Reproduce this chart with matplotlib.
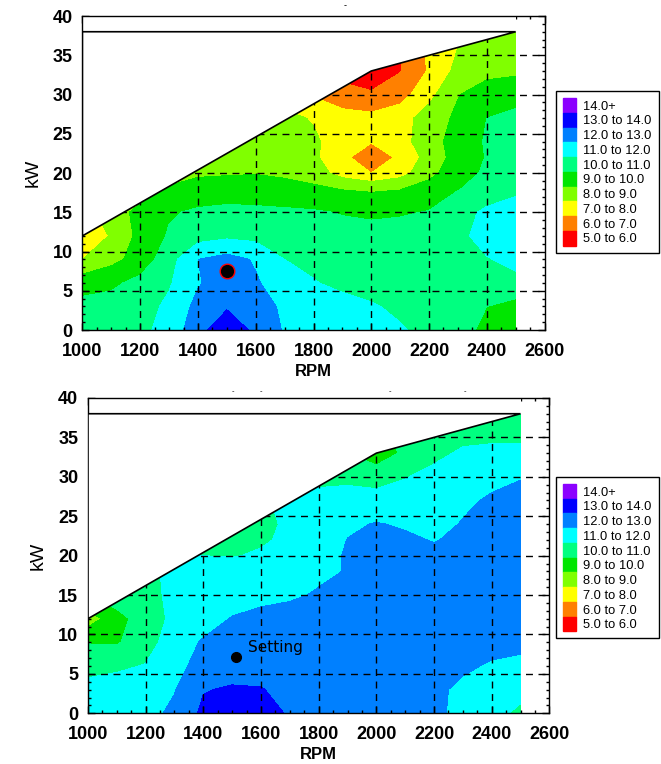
#!/usr/bin/env python3

import numpy as np
import matplotlib.pyplot as plt
from matplotlib.patches import Patch, Polygon, Rectangle
from matplotlib.ticker import MultipleLocator

# grid of the measured map
rpm = [1000, 1100, 1200, 1300, 1400, 1500, 1600, 1700,
       1800, 1900, 2000, 2100, 2200, 2300, 2400, 2500]
kw = [0, 3, 6, 9, 12, 15, 18, 20, 22, 24, 27, 30, 33, 36, 38]

# upper limit of the operating range
limit_rpm = [1000, 2000, 2500]
limit_kw = [12, 33, 38]

levels = [5, 6, 7, 8, 9, 10, 11, 12, 13, 14, 100]
colors = ['#ff0000', '#ff8000', '#ffff00', '#80ff00', '#00e600',
          '#00ff80', '#00ffff', '#0080ff', '#0000ff', '#8b00ff']
labels = ['5.0 to 6.0', '6.0 to 7.0', '7.0 to 8.0', '8.0 to 9.0', '9.0 to 10.0',
          '10.0 to 11.0', '11.0 to 12.0', '12.0 to 13.0', '13.0 to 14.0', '14.0+']

# upper map, one row per kW value
top_values = [
    [10.4, 10.6, 10.8, 11.3, 12.7, 13.6, 12.8, 11.9, 11.6, 11.5, 11.4, 11.1, 10.7, 10.3, 9.8, 9.5],
    [10.3, 10.4, 10.6, 11.2, 12.3, 12.9, 12.5, 11.8, 11.4, 11.3, 11.1, 10.8, 10.5, 10.3, 10.0, 9.6],
    [9.6, 9.8, 10.3, 10.9, 11.9, 12.6, 12.1, 11.5, 11.05, 10.8, 10.6, 10.5, 10.5, 10.6, 10.7, 10.8],
    [8.0, 8.7, 9.4, 10.6, 12.0, 12.35, 11.9, 11.0, 10.8, 10.6, 10.5, 10.5, 10.6, 10.75, 10.95, 11.2],
    [7.1, 8.1, 9.3, 10.1, 10.6, 10.8, 10.7, 10.5, 10.4, 10.3, 10.3, 10.4, 10.5, 10.8, 11.3, 11.5],
    [7.6, 8.5, 9.3, 9.9, 10.15, 10.25, 10.2, 10.15, 10.1, 9.95, 9.85, 9.9, 10.05, 10.6, 11.2, 11.4],
    [7.3, 7.9, 8.5, 9.1, 9.4, 9.5, 9.5, 9.4, 9.2, 8.95, 8.85, 8.95, 9.4, 9.95, 10.4, 10.8],
    [7.2, 7.7, 8.2, 8.6, 8.85, 8.9, 8.95, 8.8, 8.5, 7.6, 7.0, 7.6, 8.7, 9.6, 10.15, 10.55],
    [7.1, 7.5, 7.9, 8.2, 8.4, 8.5, 8.55, 8.4, 8.2, 7.2, 6.5, 7.15, 8.4, 9.4, 10.05, 10.4],
    [7.0, 7.3, 7.6, 7.9, 8.2, 8.4, 8.5, 8.35, 8.2, 7.4, 7.05, 7.6, 8.6, 9.4, 10.1, 10.4],
    [6.8, 7.0, 7.3, 7.6, 7.9, 8.1, 8.3, 8.3, 7.9, 7.4, 7.3, 7.6, 8.45, 9.2, 10.0, 10.2],
    [6.6, 6.7, 6.9, 7.1, 7.3, 7.5, 7.6, 7.4, 6.9, 6.4, 6.1, 6.6, 7.7, 8.95, 9.5, 9.7],
    [6.4, 6.5, 6.6, 6.8, 7.0, 7.1, 7.2, 7.0, 6.5, 5.6, 5.5, 5.95, 7.1, 8.3, 8.7, 8.8],
    [6.2, 6.3, 6.4, 6.6, 6.8, 6.9, 7.0, 6.8, 6.3, 5.5, 5.3, 5.9, 7.2, 8.0, 8.5, 8.6],
    [6.1, 6.2, 6.3, 6.5, 6.7, 6.8, 6.9, 6.7, 6.2, 5.4, 5.3, 6.0, 7.4, 8.1, 8.4, 8.5],
]

# lower map
bottom_values = [
    [11.4, 11.5, 11.7, 12.2, 13.2, 13.6, 13.4, 12.9, 12.6, 12.5, 12.4, 12.3, 12.15, 11.8, 11.3, 10.8],
    [11.3, 11.4, 11.6, 11.95, 12.95, 13.1, 13.05, 12.7, 12.55, 12.5, 12.45, 12.35, 12.2, 11.8, 11.5, 11.3],
    [10.7, 10.85, 11.05, 11.75, 12.3, 12.6, 12.6, 12.5, 12.55, 12.55, 12.5, 12.45, 12.35, 12.15, 11.9, 11.8],
    [9.95, 9.9, 10.6, 11.5, 12.1, 12.35, 12.4, 12.45, 12.5, 12.55, 12.55, 12.5, 12.45, 12.4, 12.3, 12.2],
    [8.5, 9.6, 10.55, 11.2, 11.6, 12.05, 12.3, 12.4, 12.45, 12.5, 12.55, 12.55, 12.55, 12.55, 12.5, 12.5],
    [10.0, 10.6, 10.6, 11.3, 11.5, 11.6, 11.7, 11.85, 12.1, 12.4, 12.5, 12.5, 12.5, 12.55, 12.55, 12.55],
    [10.3, 10.5, 10.8, 11.2, 11.3, 11.4, 11.5, 11.6, 11.8, 12.05, 12.4, 12.45, 12.4, 12.45, 12.5, 12.55],
    [10.45, 10.55, 10.75, 11.0, 11.0, 10.95, 11.1, 11.3, 11.6, 12.1, 12.4, 12.35, 12.25, 12.4, 12.5, 12.55],
    [10.45, 10.55, 10.65, 10.8, 10.8, 10.75, 10.9, 11.15, 11.45, 12.02, 12.25, 12.15, 11.95, 12.2, 12.45, 12.55],
    [10.4, 10.5, 10.5, 10.6, 10.7, 10.8, 10.85, 11.1, 11.4, 11.85, 12.05, 11.9, 11.75, 12.05, 12.3, 12.5],
    [10.4, 10.5, 10.5, 10.6, 10.7, 10.8, 10.9, 11.2, 11.3, 11.35, 11.4, 11.5, 11.6, 11.85, 12.1, 12.3],
    [10.5, 10.5, 10.5, 10.6, 10.6, 10.6, 10.6, 10.6, 10.75, 10.8, 10.6, 10.95, 11.3, 11.6, 11.8, 11.95],
    [10.4, 10.4, 10.4, 10.4, 10.4, 10.4, 10.4, 10.4, 10.4, 10.0, 9.4, 10.2, 10.75, 11.15, 11.2, 11.2],
    [10.4, 10.4, 10.4, 10.4, 10.4, 10.4, 10.4, 10.4, 10.4, 10.2, 9.8, 10.3, 10.5, 10.6, 10.7, 10.7],
    [10.4, 10.4, 10.4, 10.4, 10.4, 10.4, 10.4, 10.4, 10.4, 10.2, 9.9, 10.3, 10.5, 10.5, 10.5, 10.6],
]

setting_top = (1500, 7.5)
setting_bottom = (1512, 7.1)

TICK_FONT = {'family': 'Liberation Sans', 'weight': 'bold', 'size': 13}


def draw_map(ax, values):
    ax.contourf(rpm, kw, np.array(values), levels=levels, colors=colors, zorder=1)

    # dashed grid, drawn by hand so it can sit under the white mask
    for x in range(1200, 2600, 200):
        ax.axvline(x, color='black', ls=(0, (5, 4)), lw=1, zorder=2)
    for y in range(5, 40, 5):
        ax.axhline(y, color='black', ls=(0, (5, 4)), lw=1, zorder=2)

    # area above the limit line is blank
    ax.add_patch(Rectangle((limit_rpm[0], limit_kw[-1]), limit_rpm[-1] - limit_rpm[0], 2.5,
                           facecolor='white', edgecolor='none', zorder=2.2))
    outline = list(zip(limit_rpm, limit_kw)) + [(limit_rpm[0], limit_kw[-1])]
    ax.add_patch(Polygon(outline, closed=True, facecolor='white', edgecolor='black',
                         lw=1.2, zorder=3))

    ax.set_xlim(1000, 2600)
    ax.set_ylim(0, 40)
    ax.set_xticks(range(1000, 2601, 200))
    ax.set_yticks(range(0, 41, 5))
    ax.xaxis.set_minor_locator(MultipleLocator(50))
    ax.yaxis.set_minor_locator(MultipleLocator(1))
    ax.tick_params(which='both', direction='in', top=True, right=True, width=1)
    ax.tick_params(which='major', length=5)
    ax.tick_params(which='minor', length=2.5)
    ax.tick_params(axis='x', pad=9)
    ax.tick_params(axis='y', pad=7)
    for lab in ax.get_xticklabels() + ax.get_yticklabels():
        lab.set_fontproperties(TICK_FONT)
    for sp in ax.spines.values():
        sp.set_linewidth(1)

    ax.set_xlabel('RPM', family='Liberation Sans', weight='bold', size=12, labelpad=3)
    ax.set_ylabel('kW', family='Liberation Sans', size=14, labelpad=8)


def add_legend(fig, ax, top):
    handles = [Patch(facecolor=c, edgecolor=c) for c in colors[::-1]]
    leg = ax.legend(handles, labels[::-1], loc='upper left', bbox_to_anchor=(0.841, top),
                    bbox_transform=fig.transFigure, fancybox=False, framealpha=1,
                    edgecolor='black', handlelength=1.0, handleheight=1.38,
                    handletextpad=0.55, labelspacing=0, borderpad=0.55, borderaxespad=0,
                    prop={'family': 'Liberation Sans', 'size': 9.3})
    leg.get_frame().set_linewidth(1)


def main():
    fig = plt.figure(figsize=(6.61, 7.64), dpi=100)

    ax1 = fig.add_axes([0.1248, 0.568, 0.699, 0.411])
    draw_map(ax1, top_values)
    ax1.plot(*setting_top, 'o', ms=10.5, color='black', mec='red', mew=1, zorder=4)
    add_legend(fig, ax1, 0.881)

    ax2 = fig.add_axes([0.1331, 0.0664, 0.698, 0.4127])
    draw_map(ax2, bottom_values)
    ax2.plot(*setting_bottom, 'o', ms=7, color='black', zorder=4)
    ax2.text(1555, 8.3, 'Setting', family='DejaVu Sans', size=11, va='center', zorder=4)
    add_legend(fig, ax2, 0.376)

    # leftovers of titles hidden behind the plots
    fig.text(0.522, 0.993, '-', ha='center', va='center', size=6)
    for x in (0.352, 0.394, 0.590, 0.703):
        fig.text(x, 0.488, '-', ha='center', va='center', size=5)

    fig.savefig('out.png', dpi=100)


if __name__ == "__main__":
    main()
